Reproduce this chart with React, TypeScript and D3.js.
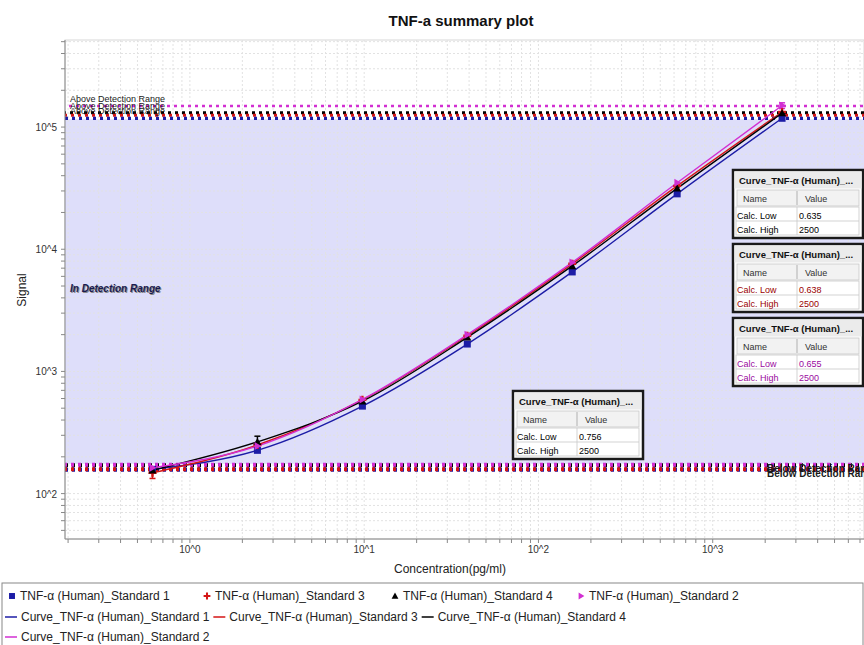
import React from 'react';
import * as d3 from 'd3';

const W = 864;
const H = 645;
const FONT = "Arial, 'Liberation Sans', sans-serif";

// ---- data ----
const concentrations = [0.61, 2.44, 9.77, 39.06, 156.25, 625, 2500];
const seriesNames = [
  'TNF-α (Human)_Standard 1',
  'TNF-α (Human)_Standard 3',
  'TNF-α (Human)_Standard 4',
  'TNF-α (Human)_Standard 2',
];
const curveNames = [
  'Curve_TNF-α (Human)_Standard 1',
  'Curve_TNF-α (Human)_Standard 3',
  'Curve_TNF-α (Human)_Standard 4',
  'Curve_TNF-α (Human)_Standard 2',
];
const std1 = [158, 226, 520, 1675, 6520, 28400, 118000];
const std3 = [148, 250, 585, 1960, 7600, 33000, 133000];
const std4 = [155, 265, 570, 1900, 7300, 31500, 130000];
const std2 = [163, 245, 590, 2000, 7800, 35000, 150000];
const err1 = [0, 0, 0, 0, 0, 0, 0];
const err3 = [15, 0, 0, 0, 0, 0, 0];
const err4 = [0, 30, 0, 0, 0, 0, 0];
const err2 = [0, 0, 0, 0, 0, 0, 8000];
const upperLimits = [118000, 125000, 131000, 149000];
const lowerLimits = [157, 158, 171, 172];
const tableTitle = 'Curve_TNF-α (Human)_...';
const tableLow = ['0.635', '0.638', '0.655', '0.756'];
const tableHigh = ['2500', '2500', '2500', '2500'];
const xTickValues = [1, 10, 100, 1000];
const xTickLabels = ['10^0', '10^1', '10^2', '10^3'];
const yTickValues = [100, 1000, 10000, 100000];
const yTickLabels = ['10^2', '10^3', '10^4', '10^5'];

const colors = ['#1c1ca6', '#d41515', '#000000', '#d22fd2'];
const markerKinds = ['square', 'plus', 'triangle', 'right'];
const tableColors = ['#000000', '#9a0000', '#9a0aa0', '#000000'];
const tablePos = [
  [733, 170],
  [733, 244],
  [733, 318],
  [513, 391],
];
const legendRow1X = [9, 204, 392, 578];

const seriesValues = [std1, std3, std4, std2];
const seriesErr = [err1, err3, err4, err2];

// ---- layout ----
const left = 65;
const top = 40;
const bottom = 539;
const rightFull = 887;

const x = d3.scaleLog().domain([0.192, 10000]).range([left, rightFull]);
const y = d3.scaleLog().domain([42.5, 516000]).range([bottom, top]);

function Marker({ kind, cx, cy, color, s = 1 }: any) {
  if (kind === 'square') {
    return <rect x={cx - 3.5 * s} y={cy - 3.5 * s} width={7 * s} height={7 * s} fill={color} />;
  }
  if (kind === 'plus') {
    const r = 4 * s;
    return (
      <path d={`M${cx - r},${cy}H${cx + r}M${cx},${cy - r}V${cy + r}`} stroke={color} strokeWidth={2.4 * s} />
    );
  }
  if (kind === 'triangle') {
    const r = 4 * s;
    return <path d={`M${cx},${cy - r}L${cx + r},${cy + r * 0.8}L${cx - r},${cy + r * 0.8}Z`} fill={color} />;
  }
  const r = 4 * s;
  return <path d={`M${cx + r},${cy}L${cx - r * 0.7},${cy - r}L${cx - r * 0.7},${cy + r}Z`} fill={color} />;
}

function measure(text: string, font: string) {
  const c = document.createElement('canvas');
  const ctx = c.getContext('2d')!;
  ctx.font = font;
  return ctx.measureText(text).width;
}

function Table({ x0, y0, color, low, high }: any) {
  const Wt = 130;
  const c1 = 64;
  return (
    <g transform={`translate(${x0},${y0})`} fontFamily={FONT}>
      <rect x={0} y={0} width={Wt} height={68} fill="#ffffff" stroke="#1a1a1a" strokeWidth={2.5} />
      <rect x={1.5} y={1.5} width={Wt - 3} height={17} fill="#ebebeb" />
      <text x={6} y={14} fontSize={9.5} fontWeight="bold" fill="#111">
        {tableTitle}
      </text>
      <rect x={4} y={20} width={Wt - 8} height={16} fill="#f2f2f2" stroke="#c8c8c8" strokeWidth={0.8} />
      <line x1={c1} x2={c1} y1={21} y2={35} stroke="#b0b0b0" />
      <text x={10} y={32} fontSize={9} fill="#333">
        Name
      </text>
      <text x={c1 + 8} y={32} fontSize={9} fill="#333">
        Value
      </text>
      <rect x={3} y={37} width={Wt - 7} height={28} fill="#fff" stroke="#c8c8c8" strokeWidth={0.8} />
      <line x1={3} x2={Wt - 4} y1={51} y2={51} stroke="#c8c8c8" strokeWidth={0.8} />
      <line x1={c1} x2={c1} y1={37} y2={65} stroke="#c8c8c8" strokeWidth={0.8} />
      <text x={4} y={49} fontSize={9} fill={color}>
        Calc. Low
      </text>
      <text x={c1 + 2} y={49} fontSize={9} fill={color}>
        {low}
      </text>
      <text x={4} y={63} fontSize={9} fill={color}>
        Calc. High
      </text>
      <text x={c1 + 2} y={63} fontSize={9} fill={color}>
        {high}
      </text>
    </g>
  );
}

export default function App() {
  const xt = x.ticks();
  const yt = y.ticks();
  const line = d3
    .line<[number, number]>()
    .x((d) => x(d[0]))
    .y((d) => y(d[1]))
    .curve(d3.curveMonotoneX);

  const bandTop = y(d3.min(upperLimits)!) + 1;
  const bandBottom = y(d3.max(lowerLimits)!) - 1;

  const legendFont = `12px ${FONT}`;
  const row2: any[] = [];
  let lx = 5;
  [0, 1, 2].forEach((i) => {
    row2.push({ x: lx, name: curveNames[i], i });
    lx += 16 + measure(curveNames[i], legendFont) + 4;
  });

  return (
    <div style={{ position: 'absolute', left: 0, top: 0 }}>
      <svg width={W} height={H} style={{ display: 'block', background: '#fff' }} fontFamily={FONT}>
        <defs>
          <clipPath id="plotclip">
            <rect x={left} y={top} width={W - left} height={bottom - top} />
          </clipPath>
        </defs>
        <text x={461} y={26} textAnchor="middle" fontSize={15} fontWeight="bold" fill="#111">
          TNF-a summary plot
        </text>

        <rect x={left} y={top} width={W - left} height={bottom - top} fill="#fff" stroke="#d8d8d8" />
        <rect x={left} y={bandTop} width={W - left} height={bandBottom - bandTop} fill="#dedefa" />

        <g clipPath="url(#plotclip)">
          {xt.map((t, i) => (
            <line key={'gx' + i} x1={x(t)} x2={x(t)} y1={top} y2={bottom} stroke="#e2e2e2" strokeDasharray="2,2" />
          ))}
          {yt.map((t, i) => (
            <line key={'gy' + i} x1={left} x2={W} y1={y(t)} y2={y(t)} stroke="#e2e2e2" strokeDasharray="2,2" />
          ))}
        </g>

        <g clipPath="url(#plotclip)">
          {[3, 2, 1, 0].map((i) => (
            <line
              key={'ul' + i}
              x1={left}
              x2={W}
              y1={y(upperLimits[i])}
              y2={y(upperLimits[i])}
              stroke={colors[i]}
              strokeWidth={i === 3 ? 2.5 : 3.2}
              strokeDasharray="3,4"
              strokeDashoffset={i}
            />
          ))}
          {[0, 1, 2, 3].map((i) => (
            <line
              key={'ll' + i}
              x1={left}
              x2={W}
              y1={y(lowerLimits[i])}
              y2={y(lowerLimits[i])}
              stroke={colors[i]}
              strokeWidth={4}
              strokeDasharray="3,4"
              strokeDashoffset={i % 2}
            />
          ))}
        </g>
        {[3, 2, 0].map((i) => (
          <text key={'ut' + i} x={70} y={y(upperLimits[i]) - 4} fontSize={9} fill="#1a1a1a">
            Above Detection Range
          </text>
        ))}
        {[0, 2].map((i) => (
          <text key={'lt' + i} x={767} y={y(lowerLimits[i]) + 7} fontSize={10} fill="#1a1a1a" fontWeight="bold">
            Below Detection Range
          </text>
        ))}
        <text x={71} y={293} fontSize={10} fontWeight="bold" fontStyle="italic" fill="#888">
          In Detection Range
        </text>
        <text x={70} y={292} fontSize={10} fontWeight="bold" fontStyle="italic" fill="#1a1a50">
          In Detection Range
        </text>

        <g clipPath="url(#plotclip)">
          {seriesValues.map((vals, i) => (
            <path
              key={'c' + i}
              d={line(concentrations.map((c, k) => [c, vals[k]]) as any) || ''}
              fill="none"
              stroke={colors[i]}
              strokeWidth={1.4}
            />
          ))}
          {seriesValues.map((vals, i) =>
            vals.map((v, k) => {
              const e = seriesErr[i][k];
              if (!e) return null;
              const cx = x(concentrations[k]);
              return (
                <g key={'e' + i + '-' + k} stroke={colors[i]} strokeWidth={1.5}>
                  <line x1={cx} x2={cx} y1={y(v - e)} y2={y(v + e)} />
                  <line x1={cx - 3} x2={cx + 3} y1={y(v - e)} y2={y(v - e)} />
                  <line x1={cx - 3} x2={cx + 3} y1={y(v + e)} y2={y(v + e)} />
                </g>
              );
            })
          )}
          {seriesValues.map((vals, i) =>
            vals.map((v, k) => (
              <Marker key={'m' + i + '-' + k} kind={markerKinds[i]} cx={x(concentrations[k])} cy={y(v)} color={colors[i]} />
            ))
          )}
        </g>

        {tablePos.map((p, i) => (
          <Table key={'t' + i} x0={p[0]} y0={p[1]} color={tableColors[i]} low={tableLow[i]} high={tableHigh[i]} />
        ))}

        <line x1={left} x2={left} y1={top} y2={bottom} stroke="#888" />
        <line x1={left} x2={W} y1={bottom} y2={bottom} stroke="#888" />
        {xt.map((t, i) => (
          <line key={'xt' + i} x1={x(t)} x2={x(t)} y1={bottom} y2={bottom + 4} stroke="#888" />
        ))}
        {yt.map((t, i) => (
          <line key={'yt' + i} x1={left - 4} x2={left} y1={y(t)} y2={y(t)} stroke="#888" />
        ))}
        {xTickValues.map((t, i) => (
          <text key={'xl' + i} x={x(t)} y={553} fontSize={10} textAnchor="middle" fill="#333">
            {xTickLabels[i]}
          </text>
        ))}
        {yTickValues.map((t, i) => (
          <text key={'yl' + i} x={57} y={y(t) + 4} fontSize={10} textAnchor="end" fill="#333">
            {yTickLabels[i]}
          </text>
        ))}
        <text x={450} y={573} fontSize={12} textAnchor="middle" fill="#222">
          Concentration(pg/ml)
        </text>
        <text transform={`translate(26,290) rotate(-90)`} fontSize={12} textAnchor="middle" fill="#222">
          Signal
        </text>

        <rect x={2} y={583} width={W - 3} height={70} fill="#fff" stroke="#888" />
        {seriesNames.map((n, i) => (
          <g key={'lg' + i}>
            <Marker kind={markerKinds[i]} cx={legendRow1X[i] + 3} cy={596} color={colors[i]} s={0.85} />
            <text x={legendRow1X[i] + 11} y={600} fontSize={12} fill="#222">
              {n}
            </text>
          </g>
        ))}
        {row2.map((r) => (
          <g key={'lc' + r.i}>
            <line x1={r.x} x2={r.x + 12} y1={617} y2={617} stroke={colors[r.i]} strokeWidth={1.5} />
            <text x={r.x + 16} y={621} fontSize={12} fill="#222">
              {r.name}
            </text>
          </g>
        ))}
        <line x1={5} x2={17} y1={637} y2={637} stroke={colors[3]} strokeWidth={1.5} />
        <text x={21} y={641} fontSize={12} fill="#222">
          {curveNames[3]}
        </text>
      </svg>
    </div>
  );
}
